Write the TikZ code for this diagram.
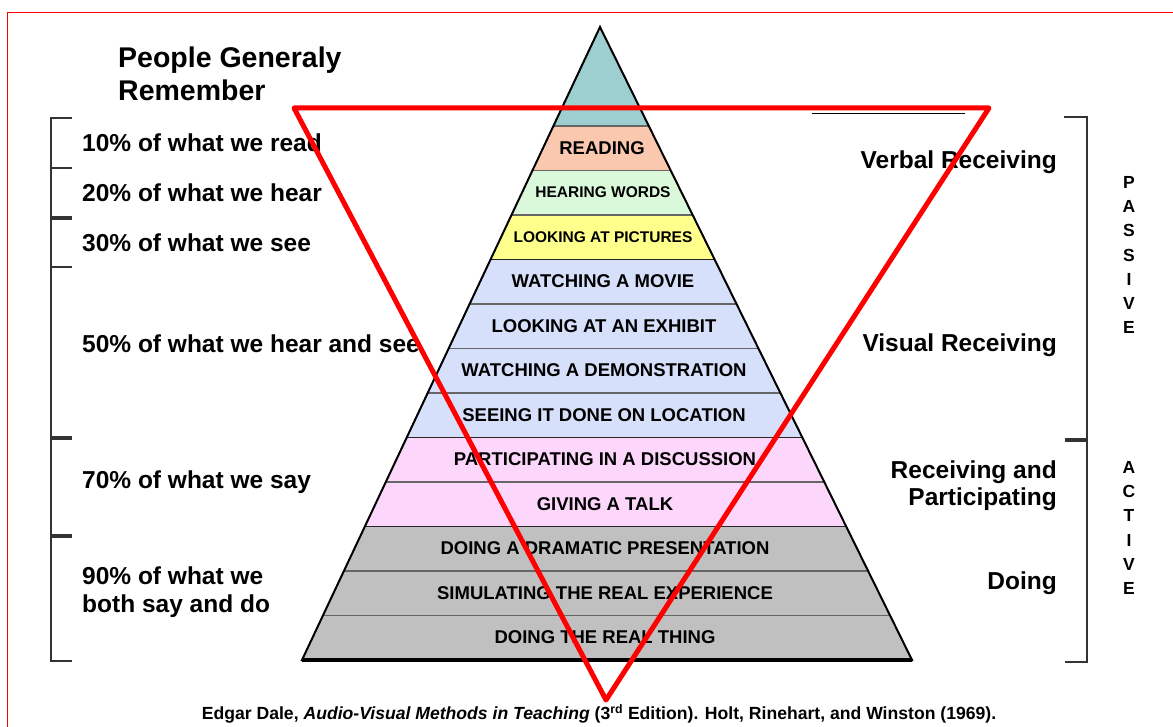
\documentclass[tikz,border=0pt]{standalone}
\usepackage{fontspec}
\setmainfont{Liberation Sans}

\definecolor{verdeazul}{RGB}{158,207,208}
\definecolor{salmon}{RGB}{250,200,175}
\definecolor{verdeclaro}{RGB}{218,248,218}
\definecolor{amarillo}{RGB}{255,255,140}
\definecolor{azulclaro}{RGB}{215,224,250}
\definecolor{rosa}{RGB}{253,214,252}
\definecolor{gris}{RGB}{192,192,192}

\tikzset{
  porcentaje/.style={anchor=west, align=left, inner sep=0pt, font=\fontsize{24.5}{28}\selectfont\bfseries},
  categoria/.style={anchor=east, align=right, inner sep=0pt, font=\fontsize{24.5}{27}\selectfont\bfseries},
  capa/.style={inner sep=0pt, font=\fontsize{18.5}{20}\selectfont\bfseries},
  capachica/.style={inner sep=0pt, font=\fontsize{15.5}{17}\selectfont\bfseries},
  vertical/.style={align=center, inner sep=0pt, font=\fontsize{17.5}{24.2}\selectfont\bfseries},
  corchete/.style={line width=2pt, draw=black!80},
  separador/.style={line width=1.2pt, draw=black!60},
}

\begin{document}
\begin{tikzpicture}[x=1pt,y=-1pt]
    \useasboundingbox (0,0) rectangle (1173,727);

    % Marco
    \draw[red, line width=1.5pt] (7.5,727) -- (7.5,12.5) -- (1173,12.5);

    % Titulo
    \node[porcentaje, font=\fontsize{28.5}{33}\selectfont\bfseries] (titulo) at (118,73.5) {People Generaly\\Remember};

    % Vertices de la piramide
    \coordinate (cima) at (600,27);
    \coordinate (izq) at (302,660);
    \coordinate (der) at (912,660);

    % Capas de colores
    \begin{scope}
        \clip (cima) -- (izq) -- (der) -- cycle;
        \fill[verdeazul] (290,20) rectangle (930,126);
        \fill[salmon] (290,126) rectangle (930,170.5);
        \fill[verdeclaro] (290,170.5) rectangle (930,215);
        \fill[amarillo] (290,215) rectangle (930,259.5);
        \fill[azulclaro] (290,259.5) rectangle (930,437.5);
        \fill[rosa] (290,437.5) rectangle (930,526.5);
        \fill[gris] (290,526.5) rectangle (930,660);
        % Separadores
        \draw[separador] (290,126) -- (930,126);
        \draw[separador] (290,170.5) -- (930,170.5);
        \draw[separador] (290,215) -- (930,215);
        \draw[separador, draw=black!85] (290,259.5) -- (930,259.5);
        \draw[separador] (290,304) -- (930,304);
        \draw[separador] (290,348.5) -- (930,348.5);
        \draw[separador] (290,393) -- (930,393);
        \draw[separador, draw=black!85] (290,437.5) -- (930,437.5);
        \draw[separador] (290,482) -- (930,482);
        \draw[separador, draw=black!85] (290,526.5) -- (930,526.5);
        \draw[separador] (290,571) -- (930,571);
        \draw[separador] (290,615.5) -- (930,615.5);
    \end{scope}

    % Contorno
    \draw[line width=2pt] (cima) -- (izq) -- (der) -- cycle;
    \draw[line width=3.5pt] (izq) -- (der);

    % Etiquetas de las capas
    \node[capa] (lectura) at (602,148.5) {READING};
    \node[capachica] (oir) at (603,192.5) {HEARING WORDS};
    \node[capachica] (imagenes) at (603,237) {LOOKING AT PICTURES};
    \node[capa] (pelicula) at (603,281.5) {WATCHING A MOVIE};
    \node[capa] (exhibicion) at (604,326) {LOOKING AT AN EXHIBIT};
    \node[capa] (demostracion) at (604,370.5) {WATCHING A DEMONSTRATION};
    \node[capa] (lugar) at (604,415) {SEEING IT DONE ON LOCATION};
    \node[capa] (discusion) at (605,459.5) {PARTICIPATING IN A DISCUSSION};
    \node[capa] (charla) at (605,504) {GIVING A TALK};
    \node[capa] (drama) at (605,548.5) {DOING A DRAMATIC PRESENTATION};
    \node[capa] (simulacion) at (605,593) {SIMULATING THE REAL EXPERIENCE};
    \node[capa] (real) at (605,637.5) {DOING THE REAL THING};

    % Porcentajes
    \node[porcentaje] (p10) at (82,143) {10\% of what we read};
    \node[porcentaje] (p20) at (82,193) {20\% of what we hear};
    \node[porcentaje] (p30) at (82,243) {30\% of what we see};
    \node[porcentaje] (p50) at (82,344) {50\% of what we hear and see};
    \node[porcentaje] (p70) at (82,482) {70\% of what we say};
    \node[porcentaje] (p90) at (82,592) {90\% of what we\\both say and do};

    % Corchetes izquierdos
    \draw[corchete] (72,118) -- (51,118) -- (51,661) -- (72,661);
    \draw[corchete] (51,168) -- (72,168);
    \draw[corchete, line width=3.5pt] (51,218) -- (72,218);
    \draw[corchete] (51,267) -- (72,267);
    \draw[corchete, line width=3.5pt] (51,438) -- (72,438);
    \draw[corchete, line width=3.5pt] (51,536) -- (72,536);

    % Categorias
    \node[categoria] (verbal) at (1057,162) {Verbal Receiving};
    \node[categoria] (visual) at (1057,345) {Visual Receiving};
    \node[categoria] (participar) at (1057,486) {Receiving and\\Participating};
    \node[categoria] (hacer) at (1057,583) {Doing};

    % Corchetes derechos
    \draw[corchete] (1064,117) -- (1087,117) -- (1087,662) -- (1065,662);
    \draw[corchete, line width=3.5pt] (1065,440) -- (1087,440);

    % Pasivo y activo
    \node[vertical] (pasivo) at (1129,255) {P\\A\\S\\S\\I\\V\\E};
    \node[vertical] (activo) at (1129,528) {A\\C\\T\\I\\V\\E};

    % Cita
    \node[inner sep=0pt, font=\fontsize{17.6}{19}\selectfont\bfseries] (cita) at (599,714)
        {Edgar Dale, \textit{Audio-Visual Methods in Teaching} (3\textsuperscript{rd} Edition). Holt, Rinehart, and Winston (1969).};

    % Triangulo rojo invertido
    \draw[line width=1.5pt] (812,113.5) -- (965,113.5);
    \draw[red, line width=5pt, line join=round] (294,108) -- (989,108) -- (606,700) -- cycle;
\end{tikzpicture}
\end{document}
